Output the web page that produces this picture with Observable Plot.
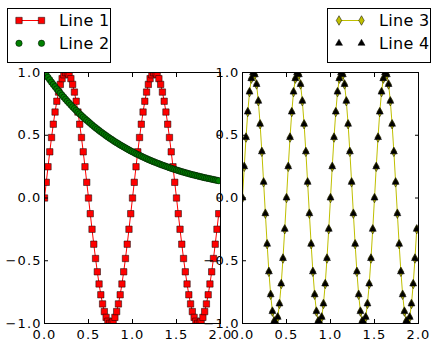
<!DOCTYPE html>
<html><head><meta charset="utf-8">
<script src="https://cdn.jsdelivr.net/npm/d3@7"></script>
<script src="https://cdn.jsdelivr.net/npm/@observablehq/plot@0.6"></script>
<style>
body{margin:0;background:#fff}
#wrap{position:relative;width:440px;height:360px;overflow:hidden;background:#fff;font-family:"DejaVu Sans"}
#wrap > svg, #wrap > figure{position:absolute;top:0;margin:0}
#wrap [aria-label$="tick label"] text{letter-spacing:1.1px}
</style>
</head><body><div id="wrap"></div>
<script>
// Shared x positions
const x = [0,0.02,0.04,0.06,0.08,0.1,0.12,0.14,0.16,0.18,0.2,0.22,0.24,0.26,0.28,0.3,0.32,0.34,0.36,0.38,0.4,0.42,0.44,0.46,0.48,0.5,0.52,0.54,0.56,0.58,0.6,0.62,0.64,0.66,0.68,0.7,0.72,0.74,0.76,0.78,0.8,0.82,0.84,0.86,0.88,0.9,0.92,0.94,0.96,0.98,1,1.02,1.04,1.06,1.08,1.1,1.12,1.14,1.16,1.18,1.2,1.22,1.24,1.26,1.28,1.3,1.32,1.34,1.36,1.38,1.4,1.42,1.44,1.46,1.48,1.5,1.52,1.54,1.56,1.58,1.6,1.62,1.64,1.66,1.68,1.7,1.72,1.74,1.76,1.78,1.8,1.82,1.84,1.86,1.88,1.9,1.92,1.94,1.96,1.98];

const line1 = [0,0.125,0.249,0.368,0.482,0.588,0.685,0.771,0.844,0.905,0.951,0.982,0.998,0.998,0.982,0.951,0.905,0.844,0.771,0.685,0.588,0.482,0.368,0.249,0.125,
0,-0.125,-0.249,-0.368,-0.482,-0.588,-0.685,-0.771,-0.844,-0.905,-0.951,-0.982,-0.998,-0.998,-0.982,-0.951,-0.905,-0.844,-0.771,-0.685,-0.588,-0.482,-0.368,-0.249,-0.125,
0,0.125,0.249,0.368,0.482,0.588,0.685,0.771,0.844,0.905,0.951,0.982,0.998,0.998,0.982,0.951,0.905,0.844,0.771,0.685,0.588,0.482,0.368,0.249,0.125,
0,-0.125,-0.249,-0.368,-0.482,-0.588,-0.685,-0.771,-0.844,-0.905,-0.951,-0.982,-0.998,-0.998,-0.982,-0.951,-0.905,-0.844,-0.771,-0.685,-0.588,-0.482,-0.368,-0.249,-0.125];

const line2 = [1,0.98,0.961,0.942,0.923,0.905,0.887,0.869,0.852,0.835,0.819,0.803,0.787,0.771,0.756,0.741,0.726,0.712,0.698,0.684,0.67,0.657,0.644,0.631,0.619,0.607,0.595,0.583,0.571,0.56,0.549,0.538,0.527,0.517,0.507,0.497,0.487,0.477,0.468,0.458,0.449,0.44,0.432,0.423,0.415,0.407,0.399,0.391,0.383,0.375,0.368,0.361,0.353,0.346,0.34,0.333,0.326,0.32,0.313,0.307,0.301,0.295,0.289,0.284,0.278,0.273,0.267,0.262,0.257,0.252,0.247,0.242,0.237,0.232,0.228,0.223,0.219,0.214,0.21,0.206,0.202,0.198,0.194,0.19,0.186,0.183,0.179,0.176,0.172,0.169,0.165,0.162,0.159,0.156,0.153,0.15,0.147,0.144,0.141,0.138];

const line3 = [0,0.249,0.482,0.685,0.844,0.951,0.998,0.982,0.905,0.771,0.588,0.368,0.125,-0.125,-0.368,-0.588,-0.771,-0.905,-0.982,-0.998,-0.951,-0.844,-0.685,-0.482,-0.249,
0,0.249,0.482,0.685,0.844,0.951,0.998,0.982,0.905,0.771,0.588,0.368,0.125,-0.125,-0.368,-0.588,-0.771,-0.905,-0.982,-0.998,-0.951,-0.844,-0.685,-0.482,-0.249,
0,0.249,0.482,0.685,0.844,0.951,0.998,0.982,0.905,0.771,0.588,0.368,0.125,-0.125,-0.368,-0.588,-0.771,-0.905,-0.982,-0.998,-0.951,-0.844,-0.685,-0.482,-0.249,
0,0.249,0.482,0.685,0.844,0.951,0.998,0.982,0.905,0.771,0.588,0.368,0.125,-0.125,-0.368,-0.588,-0.771,-0.905,-0.982,-0.998,-0.951,-0.844,-0.685,-0.482,-0.249];

const line4 = [0,0.249,0.482,0.685,0.844,0.951,0.998,0.982,0.905,0.771,0.588,0.368,0.125,-0.125,-0.368,-0.588,-0.771,-0.905,-0.982,-0.998,-0.951,-0.844,-0.685,-0.482,-0.249,
0,0.249,0.482,0.685,0.844,0.951,0.998,0.982,0.905,0.771,0.588,0.368,0.125,-0.125,-0.368,-0.588,-0.771,-0.905,-0.982,-0.998,-0.951,-0.844,-0.685,-0.482,-0.249,
0,0.249,0.482,0.685,0.844,0.951,0.998,0.982,0.905,0.771,0.588,0.368,0.125,-0.125,-0.368,-0.588,-0.771,-0.905,-0.982,-0.998,-0.951,-0.844,-0.685,-0.482,-0.249,
0,0.249,0.482,0.685,0.844,0.951,0.998,0.982,0.905,0.771,0.588,0.368,0.125,-0.125,-0.368,-0.588,-0.771,-0.905,-0.982,-0.998,-0.951,-0.844,-0.685,-0.482,-0.249];

const xTicks = [0, 0.5, 1, 1.5, 2];
const yTicks = [-1, -0.5, 0, 0.5, 1];
const seriesNames = ["Line 1", "Line 2", "Line 3", "Line 4"];

const fmt = d3.format(".1f");
const FONT = "DejaVu Sans";

function axesMarks() {
  return [
    Plot.frame({stroke: "#000", strokeWidth: 1}),
    Plot.axisX(xTicks, {anchor: "bottom", tickSize: 0, tickPadding: 6, tickFormat: fmt, label: null, fontSize: 13}),
    Plot.axisX(xTicks, {anchor: "bottom", tickSize: -4, tickFormat: () => "", label: null}),
    Plot.axisX(xTicks, {anchor: "top", tickSize: -4, tickFormat: () => "", label: null}),
    Plot.axisY(yTicks, {anchor: "left", tickSize: 0, tickPadding: 3, tickFormat: fmt, label: null, fontSize: 13}),
    Plot.axisY(yTicks, {anchor: "left", tickSize: -4, tickFormat: () => "", label: null}),
    Plot.axisY(yTicks, {anchor: "right", tickSize: -4, tickFormat: () => "", label: null})
  ];
}

function makePlot(marks, ml, mr) {
  return Plot.plot({
    width: 240, height: 360,
    marginLeft: ml, marginRight: mr, marginTop: 72, marginBottom: 37,
    x: {domain: [0, 2]},
    y: {domain: [-1, 1]},
    style: {background: "transparent", overflow: "visible", fontFamily: FONT, fontSize: "13px", color: "#000"},
    marks: [...marks, ...axesMarks()]
  });
}

const rowsL = x.map((v, i) => ({x: v, a: line1[i], b: line2[i]}));
const rowsR = x.map((v, i) => ({x: v, a: line3[i], b: line4[i]}));

const left = makePlot([
  Plot.line(rowsL, {x: "x", y: "a", stroke: "#ff0000", strokeWidth: 1, clip: true}),
  Plot.dot(rowsL, {x: "x", y: "a", symbol: "square", r: 3.6, fill: "#ff0000", stroke: "#000", strokeWidth: 0.5, clip: true}),
  Plot.dot(rowsL, {x: "x", y: "b", symbol: "circle", r: 3.2, fill: "#008000", stroke: "#000", strokeWidth: 0.5, clip: true})
], 44, 20);

const right = makePlot([
  Plot.line(rowsR, {x: "x", y: "a", stroke: "#bfbf00", strokeWidth: 1, clip: true}),
  Plot.dot(rowsR, {x: "x", y: "a", symbol: "diamond", r: 2.9, fill: "#bfbf00", stroke: "#000", strokeWidth: 0.5, clip: true}),
  Plot.dot(rowsR, {x: "x", y: "b", symbol: "triangle", r: 2.6, fill: "#000", stroke: "#000", strokeWidth: 0.5, clip: true})
], 42, 22);

const wrap = document.getElementById("wrap");
left.style.left = "0px";
right.style.left = "200px";
wrap.appendChild(left);
wrap.appendChild(right);

// Figure legends (drawn with the same d3 symbols)
const leg = d3.create("svg").attr("width", 440).attr("height", 70)
  .style("position", "absolute").style("left", "0px").style("top", "0px")
  .style("font-family", FONT).style("overflow", "visible");

function legendBox(x0, entries) {
  const g = leg.append("g");
  g.append("rect").attr("x", x0 + 0.5).attr("y", 8.5).attr("width", 103).attr("height", 54)
    .attr("fill", "#fff").attr("stroke", "#000").attr("stroke-width", 1);
  entries.forEach((e, i) => {
    const cy = 20.5 + i * 22.8;
    const xa = x0 + 12, xb = x0 + 34.5;
    if (e.line) g.append("line").attr("x1", xa).attr("x2", xb).attr("y1", cy).attr("y2", cy)
      .attr("stroke", e.line).attr("stroke-width", 1);
    [xa, xb].forEach(px => {
      g.append("path").attr("d", d3.symbol(e.symbol, Math.PI * e.r * e.r)())
        .attr("transform", `translate(${px},${cy})`)
        .attr("fill", e.fill).attr("stroke", "#000").attr("stroke-width", 0.5);
    });
    g.append("text").attr("x", x0 + 52).attr("y", cy).attr("dy", "0.36em")
      .attr("font-size", 16).attr("letter-spacing", "0.3px").attr("fill", "#000").text(e.name);
  });
}
legendBox(7, [
  {name: seriesNames[0], symbol: d3.symbolSquare, r: 3.6, fill: "#ff0000", line: "#ff0000"},
  {name: seriesNames[1], symbol: d3.symbolCircle, r: 3.2, fill: "#008000", line: null}
]);
legendBox(327, [
  {name: seriesNames[2], symbol: d3.symbolDiamond, r: 2.9, fill: "#bfbf00", line: "#bfbf00"},
  {name: seriesNames[3], symbol: d3.symbolTriangle, r: 2.6, fill: "#000", line: null}
]);
wrap.appendChild(leg.node());
</script>
</body></html>
